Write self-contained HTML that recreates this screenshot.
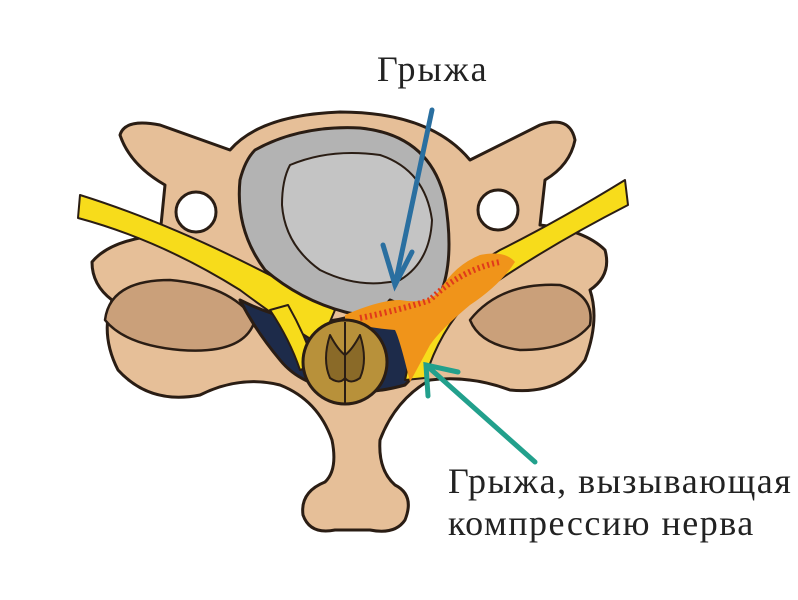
<!DOCTYPE html>
<html><head><meta charset="utf-8"><style>
html,body{margin:0;padding:0;background:#fff;width:798px;height:600px;overflow:hidden}
svg{display:block}
text{font-family:"Liberation Serif",serif;fill:#222}
</style></head><body>
<svg width="798" height="600" viewBox="0 0 798 600" xmlns="http://www.w3.org/2000/svg">
<g stroke="#2a1d14" stroke-width="3" stroke-linejoin="round">
<path d="M120,135 Q125,118 160,125 L230,150 Q260,115 340,112 Q430,112 470,160 L540,125 Q570,115 575,140 Q570,165 545,180 L540,225 Q585,230 605,250 Q612,275 590,290 Q600,320 585,360 Q560,395 510,390 Q470,375 430,380 Q395,400 380,440 Q378,470 395,485 Q415,495 405,520 Q395,535 370,530 L335,530 Q310,535 303,515 Q300,492 325,482 Q338,470 332,440 Q318,400 280,385 Q240,375 200,395 Q150,405 118,370 Q100,335 112,300 Q92,285 92,262 Q110,240 160,235 L165,185 Q130,165 120,135 Z" fill="#e6bf98"/>
<path d="M105,320 Q110,280 170,280 Q230,285 255,320 Q245,355 180,350 Q125,345 105,320 Z" fill="#caa07a" stroke-width="2.5"/>
<path d="M470,320 Q500,282 560,285 Q595,295 590,325 Q570,350 520,350 Q480,345 470,320 Z" fill="#caa07a" stroke-width="2.5"/>
<circle cx="196" cy="212" r="20" fill="#fff"/>
<circle cx="498" cy="210" r="20" fill="#fff"/>
<path d="M240,300 Q300,330 345,318 Q400,310 440,320 Q430,360 405,385 Q370,395 340,390 Q300,385 280,360 Q255,330 240,300 Z" fill="#1d2b4a"/>
<path d="M80,195 Q160,220 250,265 Q300,290 335,310 L320,345 Q280,320 240,290 Q160,240 78,218 Z" fill="#f7dc1b" stroke-width="2"/>
<path d="M625,180 Q560,220 500,250 Q450,280 420,310 L405,380 L425,378 Q440,330 470,300 Q540,250 628,205 Z" fill="#f7dc1b" stroke-width="2"/>
<path d="M270,310 Q290,340 300,370 L315,365 Q305,335 288,305 Z" fill="#f7dc1b" stroke-width="2"/>
<path d="M255,150 Q300,125 360,128 Q430,135 445,200 Q455,260 440,295 Q420,315 390,300 Q375,320 345,312 Q300,300 265,270 Q235,230 240,180 Q245,160 255,150 Z" fill="#b3b3b3"/>
<path d="M290,165 Q330,148 380,155 Q425,170 432,220 Q430,262 400,280 Q360,290 320,270 Q285,245 282,205 Q282,180 290,165 Z" fill="#c4c4c4" stroke-width="2"/>
<path d="M345,315 Q380,300 400,300 Q430,305 440,290 Q455,265 480,255 Q505,250 515,262 Q500,285 470,305 Q440,330 430,345 L410,382 Q400,340 395,330 Q370,328 345,322 Z" fill="#f0941a" stroke="none"/>
<path d="M360,318 Q400,310 430,300 Q460,270 500,262" stroke="#e03a1a" stroke-width="6" fill="none" stroke-dasharray="2 3"/>
<circle cx="345" cy="362" r="42" fill="#b8913a"/>
<path d="M330,335 Q322,360 330,378 Q340,385 345,378 Q350,385 360,378 Q368,360 360,335 Q352,350 345,355 Q338,350 330,335 Z" fill="#8a6a28" stroke-width="2"/>
<line x1="345" y1="322" x2="345" y2="403" stroke-width="2"/>
</g>
<g stroke="#2a6fa0" stroke-width="5" fill="none" stroke-linecap="round">
<line x1="432" y1="110" x2="395" y2="285"/>
<polyline points="383,245 395,285 412,252"/>
</g>
<g stroke="#22a08c" stroke-width="5" fill="none" stroke-linecap="round">
<line x1="535" y1="462" x2="426" y2="365"/>
<polyline points="458,372 426,365 428,396"/>
</g>
<text x="377" y="81" font-size="36" letter-spacing="2">Грыжа</text>
<text x="448" y="493" font-size="36" letter-spacing="1.5">Грыжа, вызывающая</text>
<text x="448" y="535" font-size="36" letter-spacing="1.5">компрессию нерва</text>
</svg>
</body></html>
